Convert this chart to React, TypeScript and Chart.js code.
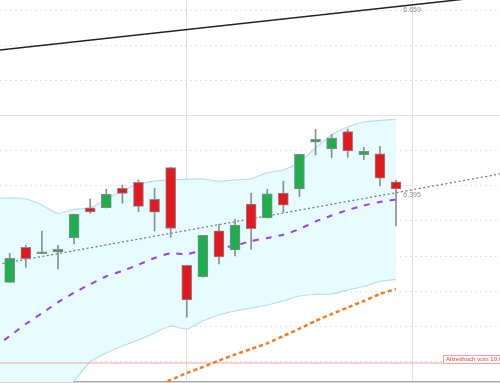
import React, { useEffect, useRef } from "react";
import { Chart, registerables } from "chart.js";

Chart.register(...registerables);

// ---- candle data (trading-day index) ----
const candleIndex = [0, 1, 2, 3, 4, 5, 6, 7, 8, 9, 10, 11, 12, 13, 14, 15, 16, 17, 18, 19, 20, 21, 22, 23, 24];
const opens = [6.2625, 6.3124, 6.3033, 6.3058, 6.3261, 6.3688, 6.3688, 6.3964, 6.405, 6.3808, 6.4261, 6.2868, 6.2705, 6.336, 6.3085, 6.3741, 6.3541, 6.3895, 6.3954, 6.462, 6.4524, 6.4771, 6.4443, 6.4457, 6.4058];
const highs = [6.3038, 6.3152, 6.3356, 6.3157, 6.3598, 6.3812, 6.3954, 6.4011, 6.4083, 6.3964, 6.4265, 6.287, 6.3295, 6.3452, 6.3523, 6.3893, 6.395, 6.4068, 6.445, 6.4805, 6.4734, 6.4809, 6.4548, 6.4563, 6.4083];
const lows = [6.262, 6.2839, 6.303, 6.2815, 6.3171, 6.3608, 6.3684, 6.3751, 6.3631, 6.3356, 6.3266, 6.2127, 6.27, 6.2886, 6.3, 6.3095, 6.354, 6.3623, 6.3845, 6.4439, 6.44, 6.4406, 6.4377, 6.3997, 6.3432];
const closes = [6.2967, 6.2962, 6.3061, 6.3095, 6.3594, 6.3627, 6.3879, 6.3893, 6.3708, 6.3623, 6.3392, 6.2373, 6.3295, 6.2986, 6.3442, 6.3389, 6.3887, 6.3724, 6.4449, 6.4662, 6.4681, 6.4496, 6.4491, 6.4107, 6.3954];

// ---- indicators ----
const overlayIndex = [-1, 0, 1, 2, 3, 4, 5, 6, 7, 8, 9, 10, 11, 12, 13, 14, 15, 16, 17, 18, 19, 20, 21, 22, 23, 24];
const bandUpper = [6.3812, 6.383, 6.3812, 6.3726, 6.3608, 6.3665, 6.3688, 6.3808, 6.393, 6.4026, 6.4068, 6.4083, 6.4093, 6.4097, 6.4068, 6.4083, 6.4101, 6.4187, 6.4225, 6.4339, 6.4538, 6.4724, 6.4838, 6.4909, 6.493, 6.4947];
const bandLower = [6.045, 6.0593, 6.0692, 6.0835, 6.1006, 6.1219, 6.149, 6.1618, 6.1718, 6.1803, 6.1903, 6.2003, 6.196, 6.2074, 6.216, 6.2217, 6.2259, 6.2302, 6.2359, 6.243, 6.2452, 6.2459, 6.2516, 6.2566, 6.2637, 6.2668];
const maShort = [6.169, 6.186, 6.2031, 6.2184, 6.234, 6.2477, 6.2597, 6.2711, 6.2786, 6.2876, 6.2972, 6.3038, 6.3028, 6.3078, 6.3114, 6.3147, 6.3214, 6.3256, 6.3303, 6.3385, 6.3491, 6.3577, 6.3655, 6.3719, 6.3769, 6.3805];
const maLongIndex = [9, 10, 11, 12, 13, 14, 15, 16, 17, 18, 19, 20, 21, 22, 23, 24];
const maLong = [6.1141, 6.1234, 6.1333, 6.1419, 6.1511, 6.1597, 6.1675, 6.1756, 6.186, 6.1964, 6.2074, 6.2174, 6.2266, 6.2359, 6.2459, 6.253];

// ---- trend lines ----
const trendIndex = [-1, 31];
const channelTop = [6.5924, 6.6728];
const trendLine = [6.2869, 6.4191];
const athLevel = 6.1476;
const athLabel = "Allzeithoch vom 19.0";
const athLabelIndex = 26.9;
const endLabels = ["6.659", "6.395"];
const endLabelIndex = 25;

// ---- axes ----
const gridPrices = [6.15, 6.2, 6.25, 6.3, 6.35, 6.4, 6.45, 6.5, 6.55, 6.6, 6.65];
const solidGridPrice = 6.5;
const dateGridIndex = [11, 25];
const xMin = -0.603;
const xMax = 30.46;
const yMin = 6.1205;
const yMax = 6.6647;

const labelPlugin = {
  id: "chartLabels",
  afterDatasetsDraw(chart: any) {
    const { ctx } = chart;
    const x = chart.scales.x;
    const y = chart.scales.y;
    ctx.save();
    ctx.font = '7px "Liberation Sans", Arial, sans-serif';
    ctx.fillStyle = "#8c8c8c";
    ctx.textAlign = "center";
    ctx.textBaseline = "middle";
    endLabels.forEach((t) => {
      ctx.fillText(t, x.getPixelForValue(endLabelIndex), y.getPixelForValue(parseFloat(t)) + 6);
    });
    const ay = Math.round(y.getPixelForValue(athLevel)) + 0.5;
    const bx = Math.round(x.getPixelForValue(athLabelIndex)) + 0.5;
    ctx.fillStyle = "#ffffff";
    ctx.fillRect(bx, ay - 8, 80, 8);
    ctx.strokeStyle = "#f2a4a4";
    ctx.lineWidth = 1;
    ctx.strokeRect(bx, ay - 8, 80, 8);
    ctx.fillStyle = "#e03c3c";
    ctx.textAlign = "left";
    ctx.font = '6.1px "Liberation Sans", Arial, sans-serif';
    ctx.fillText(athLabel, bx + 2.5, ay - 3.8);
    ctx.restore();
  },
};

export default function App() {
  const ref = useRef<HTMLCanvasElement | null>(null);

  useEffect(() => {
    if (!ref.current) return;
    const lineOpts = { pointRadius: 0, pointHoverRadius: 0, fill: false, type: "line" as const };
    const chart = new Chart(ref.current, {
      type: "bar",
      data: {
        datasets: [
          {
            ...lineOpts,
            label: "BB upper",
            data: overlayIndex.map((i, k) => ({ x: i, y: bandUpper[k] })),
            borderColor: "#b3def3",
            borderWidth: 1.2,
            backgroundColor: "#e6fcff",
            fill: "+1",
            tension: 0.25,
            order: 10,
          } as any,
          {
            ...lineOpts,
            label: "BB lower",
            data: overlayIndex.map((i, k) => ({ x: i, y: bandLower[k] })),
            borderColor: "#b3def3",
            borderWidth: 1.2,
            tension: 0.25,
            order: 9,
          },
          {
            ...lineOpts,
            label: "ATH",
            data: trendIndex.map((i) => ({ x: i, y: athLevel })),
            borderColor: "#f4a3a3",
            borderWidth: 1.2,
            order: 8,
          },
          {
            ...lineOpts,
            label: "MA long",
            data: maLongIndex.map((i, k) => ({ x: i, y: maLong[k] })),
            borderColor: "#f47b20",
            borderWidth: 2.5,
            borderDash: [4, 3],
            tension: 0.2,
            order: 7,
          },
          {
            ...lineOpts,
            label: "Trend",
            data: trendIndex.map((i, k) => ({ x: i, y: trendLine[k] })),
            borderColor: "#7a7a7a",
            borderWidth: 1.3,
            borderDash: [2, 2.5],
            order: 6,
          },
          {
            ...lineOpts,
            label: "Channel",
            data: trendIndex.map((i, k) => ({ x: i, y: channelTop[k] })),
            borderColor: "#222222",
            borderWidth: 1.5,
            order: 5,
          },
          {
            ...lineOpts,
            label: "MA short",
            data: overlayIndex.map((i, k) => ({ x: i, y: maShort[k] })),
            borderColor: "#9d3bff",
            borderWidth: 2,
            borderDash: [6, 7],
            tension: 0.2,
            order: 4,
          },
          {
            type: "bar",
            label: "Wicks",
            data: candleIndex.map((i, k) => ({ x: i, y: [lows[k], highs[k]] })),
            backgroundColor: "#8e8e8e",
            borderWidth: 0,
            barThickness: 1,
            grouped: false,
            order: 2,
          } as any,
          {
            type: "bar",
            label: "Bodies",
            data: candleIndex.map((i, k) => ({ x: i, y: [opens[k], closes[k]] })),
            backgroundColor: candleIndex.map((_, k) => (closes[k] >= opens[k] ? "#1fae4c" : "#e2191f")),
            borderColor: "#8a8a8a",
            borderWidth: 1,
            borderSkipped: false,
            barThickness: 10,
            grouped: false,
            order: 1,
          } as any,
        ],
      },
      options: {
        animation: false,
        responsive: false,
        maintainAspectRatio: false,
        layout: { padding: 0 },
        plugins: { legend: { display: false }, tooltip: { enabled: false } },
        scales: {
          x: {
            type: "linear",
            min: xMin,
            max: xMax,
            offset: false,
            ticks: { display: false },
            grid: { color: "#dde1ec", drawTicks: false, lineWidth: 1, offset: false },
            border: { display: true, color: "#a8a8a8", width: 1.5 },
            afterBuildTicks: (s: any) => {
              s.ticks = dateGridIndex.map((v) => ({ value: v }));
            },
            afterFit: (s: any) => {
              s.height = 1;
            },
          },
          y: {
            type: "linear",
            position: "right",
            min: yMin,
            max: yMax,
            ticks: { display: false },
            grid: { color: "#e3e3e3", drawTicks: false, lineWidth: 1 },
            border: {
              display: false,
              dash: (ctx: any) =>
                ctx.tick && Math.abs(ctx.tick.value - solidGridPrice) < 1e-6 ? [] : [2, 3],
            },
            afterBuildTicks: (s: any) => {
              s.ticks = gridPrices.map((v) => ({ value: v }));
            },
            afterFit: (s: any) => {
              s.width = 0;
            },
          },
        },
      } as any,
      plugins: [labelPlugin],
    });
    return () => chart.destroy();
  }, []);

  return (
    <div style={{ position: "fixed", left: 0, top: 0, width: 500, height: 383, background: "#ffffff" }}>
      <canvas ref={ref} width={500} height={383} style={{ display: "block" }} />
    </div>
  );
}
